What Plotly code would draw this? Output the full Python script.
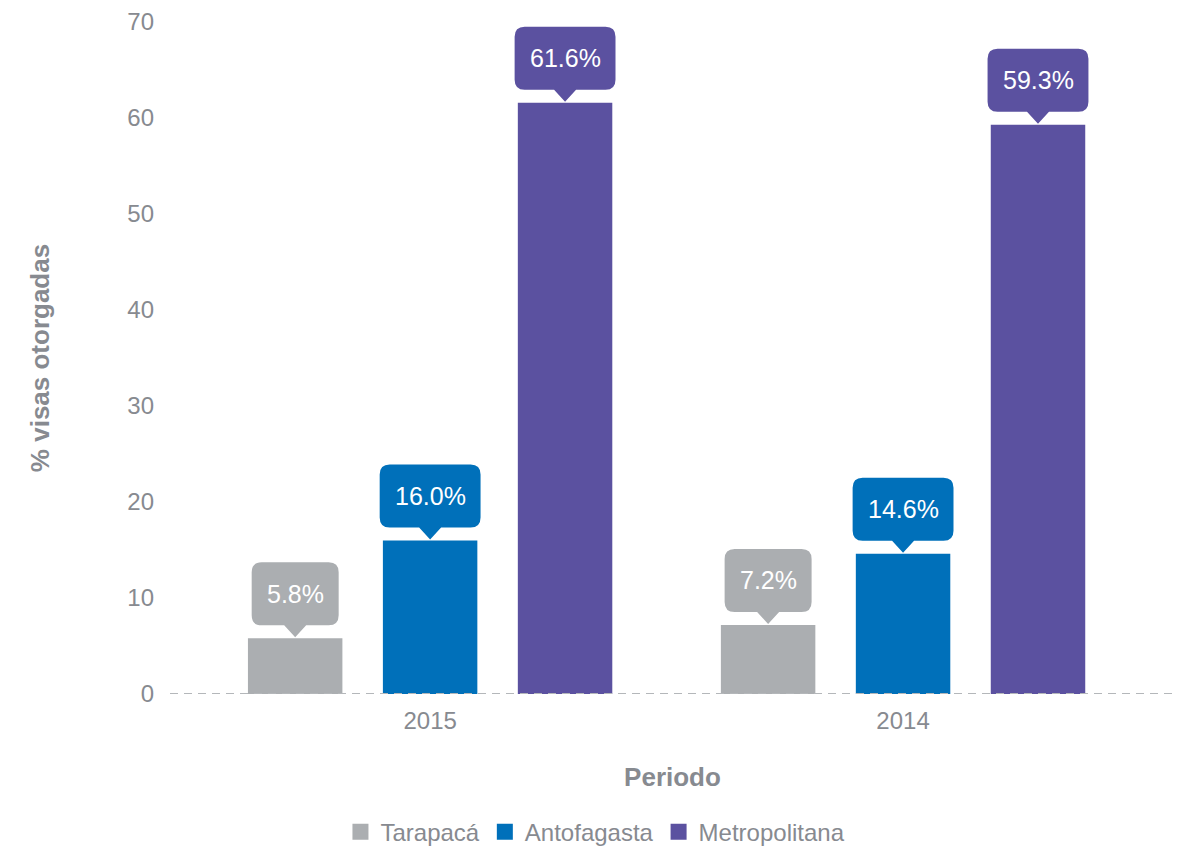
import plotly.graph_objects as go

periods = ["2015", "2014"]
regions = ["Tarapacá", "Antofagasta", "Metropolitana"]
tarapaca = [5.8, 7.2]
antofagasta = [16.0, 14.6]
metropolitana = [61.6, 59.3]
colors = ["#ABAEB1", "#0070BA", "#5B51A0"]

series = [tarapaca, antofagasta, metropolitana]
xpos = list(range(len(periods)))

BARGAP = 0.144
BARGROUPGAP = 0.30
FONT = "Liberation Sans, Arial, sans-serif"
GRAY = "#878A90"

fig = go.Figure()
for name, vals, col in zip(regions, series, colors):
    fig.add_trace(go.Bar(x=xpos, y=vals, name=name, marker=dict(color=col, line=dict(width=0)),
                         showlegend=False, hoverinfo="skip"))
# legend entries with larger square markers
for name, col in zip(regions, colors):
    fig.add_trace(go.Scatter(x=[None], y=[None], mode="markers", name=name,
                             marker=dict(symbol="square", size=16, color=col)))

slot = (1 - BARGAP) / len(series)
FS = 25
char_w = {".": 0.278, "%": 0.889}

def text_width(s):
    return sum(char_w.get(c, 0.556) for c in s) * FS

PH, BH, HW, R = 13, 63, 11, 10
for j, (vals, col) in enumerate(zip(series, colors)):
    for i, v in enumerate(vals):
        xc = i + (j - (len(series) - 1) / 2) * slot
        label = f"{v:.1f}%"
        w = text_width(label) + 30
        hw = w / 2
        top = PH + BH
        path = (f"M 0,1 L {HW},{PH} L {hw - R},{PH} Q {hw},{PH} {hw},{PH + R} "
                f"L {hw},{top - R} Q {hw},{top} {hw - R},{top} "
                f"L {-hw + R},{top} Q {-hw},{top} {-hw},{top - R} "
                f"L {-hw},{PH + R} Q {-hw},{PH} {-hw + R},{PH} L {-HW},{PH} Z")
        fig.add_shape(type="path", xref="x", yref="y", xsizemode="pixel", ysizemode="pixel",
                      xanchor=xc, yanchor=v, path=path, fillcolor=col, line=dict(width=0),
                      layer="above")
        fig.add_annotation(x=xc, y=v, text=label, showarrow=False, yshift=PH + BH / 2,
                           xanchor="center", yanchor="middle",
                           font=dict(family=FONT, size=FS, color="white"))

fig.add_shape(type="line", xref="paper", yref="y", x0=0, x1=1, y0=0, y1=0,
              line=dict(color="#B4B7BA", width=2, dash="8px,6px"), layer="above")

fig.update_layout(
    width=1182, height=857,
    margin=dict(l=162, r=15, t=14, b=171, autoexpand=False),
    paper_bgcolor="white", plot_bgcolor="white",
    barmode="group", bargap=BARGAP, bargroupgap=BARGROUPGAP,
    font=dict(family=FONT, color=GRAY, size=24),
    xaxis=dict(range=[-0.55, 1.575], tickmode="array", tickvals=xpos, ticktext=periods,
               showgrid=False, zeroline=False, showline=False, ticks="", automargin=False,
               ticklabelstandoff=10, tickfont=dict(size=24, color=GRAY),
               title=dict(text="<b>Periodo</b>", standoff=34,
                          font=dict(size=26, color=GRAY))),
    yaxis=dict(range=[0, 70], dtick=10, showgrid=False, zeroline=False, showline=False,
               ticks="", ticklabelstandoff=15, ticklabeloverflow="allow", automargin=False,
               tickfont=dict(size=24, color=GRAY),
               title=dict(text="<b>% visas otorgadas</b>", standoff=70,
                          font=dict(size=26, color=GRAY))),
    legend=dict(orientation="h", xref="container", yref="container", x=0.497, xanchor="center",
                y=0.012, yanchor="bottom", font=dict(size=24, color=GRAY),
                itemsizing="trace"),
)

fig.write_html("out.html")
